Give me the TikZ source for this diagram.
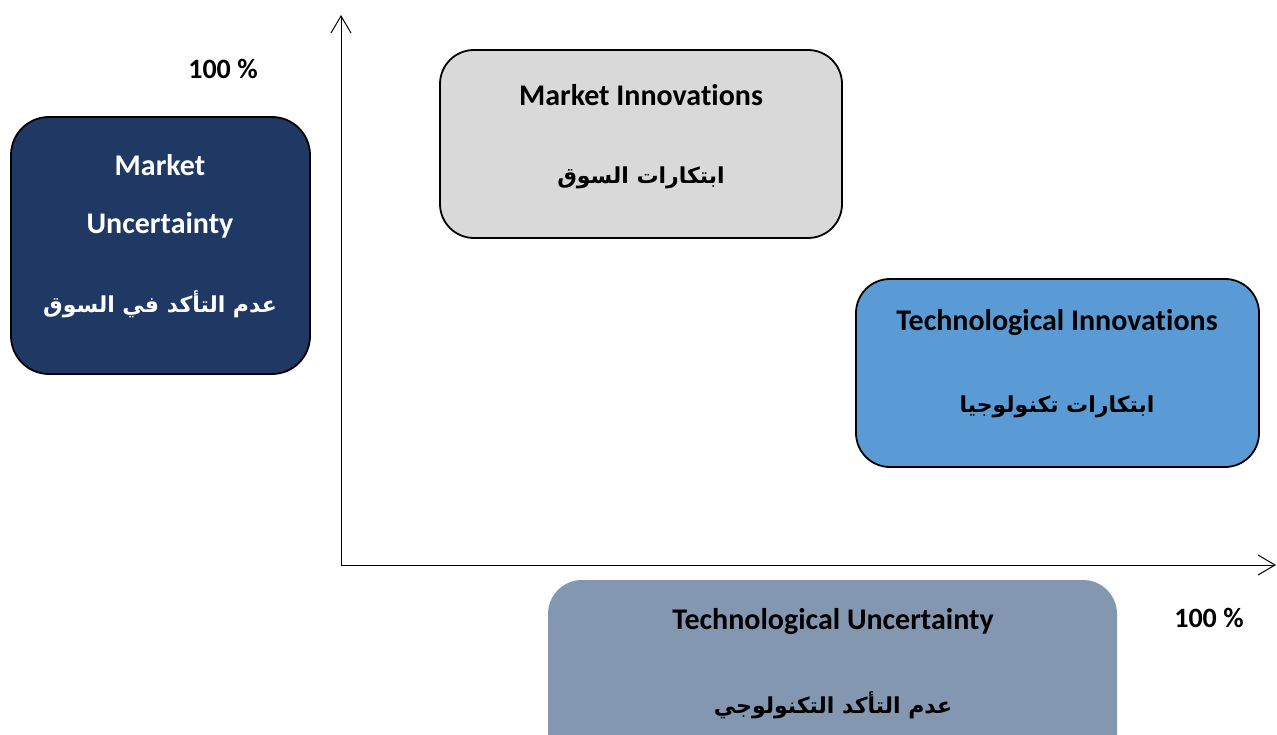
\documentclass[tikz,border=0pt]{standalone}
\usepackage{fontspec}
\setmainfont{Carlito}[Ligatures={NoCommon}]
\newfontfamily\arabicfont[Script=Arabic]{DejaVu Sans}
\TeXXeTstate=1
\usetikzlibrary{arrows.meta}
\definecolor{mudark}{HTML}{1F3864}
\definecolor{migray}{HTML}{D9D9D9}
\definecolor{tiblue}{HTML}{5B9BD5}
\definecolor{tuslate}{HTML}{8497B0}
\tikzset{
  box/.style={rounded corners=38pt, line width=1.8pt, draw=black},
  entext/.style={font=\bfseries\fontsize{30}{34}\selectfont, inner sep=0pt},
  artext/.style={font=\arabicfont\bfseries\fontsize{22}{26}\selectfont, inner sep=0pt},
  pct/.style={font=\bfseries\fontsize{28}{32}\selectfont, inner sep=0pt},
  axis/.style={line width=1pt, -{Straight Barb[length=17pt,width=20pt,line width=1pt]}}
}
\begin{document}
\begin{tikzpicture}[x=1pt,y=-1pt]
\useasboundingbox (0,0) rectangle (1277,735);
\clip (0,0) rectangle (1277,735);
\fill[white] (0,0) rectangle (1277,735);
% axes
\coordinate (o) at (341,565);
\coordinate (ytop) at (341,15);
\coordinate (xend) at (1276,565);
\draw[axis] (o) -- (ytop);
\draw[axis] (o) -- (xend);
% boxes
\draw[box, fill=mudark] (11,117) rectangle (310,374);
\coordinate (mu) at (160.5,245.5);
\draw[box, fill=migray, rounded corners=34pt] (440,50) rectangle (842,238);
\coordinate (mi) at (641,144);
\draw[box, fill=tiblue, rounded corners=34pt] (856,279) rectangle (1259,467);
\coordinate (ti) at (1057.5,373);
\fill[tuslate, rounded corners=34pt] (548,580) rectangle (1117,790);
\coordinate (tu) at (832.5,660);
% texts
\node[entext, text=white] (mu1) at (160,165) {Market};
\node[entext, text=white] (mu2) at (160,225) {Uncertainty};
\node[artext, text=white] (mu3) at (160,304) {\beginR عدم التأكد في السوق\endR};
\node[entext] (mi1) at (641,95) {Market Innovations};
\node[artext] (mi2) at (641,178) {\beginR ابتكارات السوق\endR};
\node[entext] (ti1) at (1057,323) {Technological Innovations};
\node[artext] (ti2) at (1057,407) {\beginR ابتكارات تكنولوجيا\endR};
\node[entext] (tu1) at (833,622) {Technological Uncertainty};
\node[artext] (tu2) at (833,705) {\beginR عدم التأكد التكنولوجي\endR};
\node[pct] (p1) at (223,69) {100 \%};
\node[pct] (p2) at (1209,618) {100 \%};
\end{tikzpicture}
\end{document}
